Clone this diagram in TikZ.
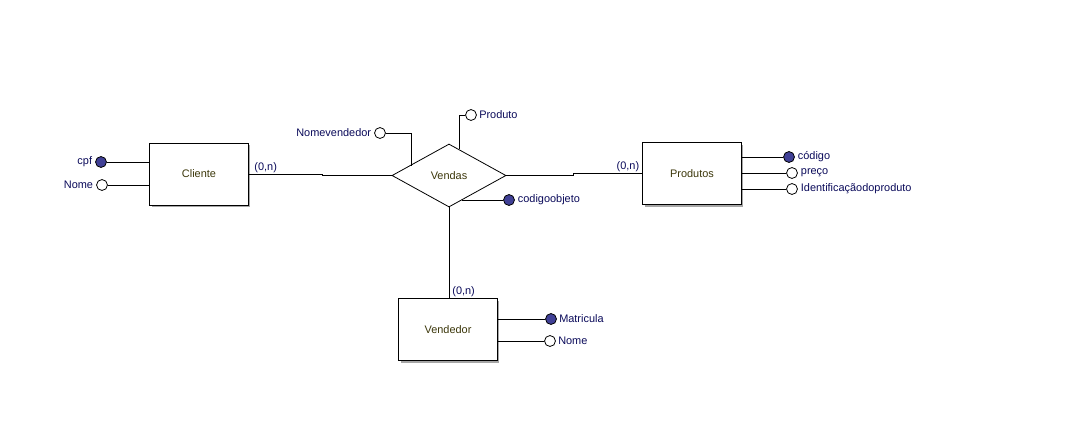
\documentclass[tikz,border=0pt]{standalone}
\usepackage{fontspec}
\setmainfont{Liberation Sans}
\usetikzlibrary{shapes,shapes.geometric,shadows}
\usetikzlibrary{positioning}
\definecolor{azulrot}{RGB}{10,10,90}
\definecolor{textoent}{RGB}{60,55,10}
\definecolor{chavecor}{RGB}{64,64,150}
\tikzstyle{entidade} = [draw, rectangle, fill=white, minimum width=74pt,
minimum height=46.5pt, inner sep=0pt, text=textoent,
drop shadow={shadow xshift=1.5pt, shadow yshift=-1.5pt, fill=gray!70, opacity=1}]
\tikzstyle{atributo} = [draw, circle, fill=white, minimum size=8.2pt, inner sep=0pt]

\begin{document}
\begin{tikzpicture}[x=0.75pt, y=-0.75pt, font=\fontsize{8.2}{10}\selectfont,
	line width=0.6pt,
	relac/.style={draw, diamond, fill=white, minimum width=85.5pt,
		minimum height=47.25pt, inner sep=0pt, text=textoent},
	chave/.style={atributo, fill=chavecor},
	rotulo/.style={text=azulrot, inner sep=0pt},
	card/.style={text=azulrot, inner sep=1pt}]
	\useasboundingbox[fill=white] (0,0) rectangle (1065,430);
	\node [entidade] (Cliente) at (199,174) {Cliente};
	\node [relac] (Vendas) at (449,175.5) {Vendas};
	\node [entidade] (Produtos) at (692,173.5) {Produtos};
	\node [entidade] (Vendedor) at (448,329.5) {Vendedor};
	%% atributos
	\node [chave] (cpf) at (101,162) {};
	\node [atributo] (nomecli) at (102,185) {};
	\node [atributo] (nomev) at (380,133) {};
	\node [atributo] (produto) at (471,115) {};
	\node [chave] (codobj) at (509,200) {};
	\node [chave] (codigo) at (789,157) {};
	\node [atributo] (preco) at (792,173) {};
	\node [atributo] (ident) at (792,189) {};
	\node [chave] (matricula) at (551,319) {};
	\node [atributo] (nomevend) at (550,341) {};
	\node [rotulo, left=2pt of cpf] (Tcpf) {cpf};
	\node [rotulo, left=2pt of nomecli] (Tnomecli) {Nome};
	\node [rotulo, left=2pt of nomev] (Tnomev) {Nomevendedor};
	\node [rotulo, right=1.5pt of produto] (Tproduto) {Produto};
	\node [rotulo, right=2pt of codobj] (Tcodobj) {codigoobjeto};
	\node [rotulo, right=2pt of codigo] (Tcodigo) {código};
	\node [rotulo, right=2pt of preco] (Tpreco) {preço};
	\node [rotulo, right=2pt of ident] (Tident) {Identificaçãodoproduto};
	\node [rotulo, right=1.5pt of matricula] (Tmatricula) {Matricula};
	\node [rotulo, right=1.5pt of nomevend] (Tnomevend) {Nome};
	\coordinate (h1) at (411,166);
	\coordinate (h2) at (459,149);
	\coordinate (h3) at (462,200);
	%% ligacoes
	\draw (cpf) -- (cpf -| Cliente.west);
	\draw (nomecli) -- (nomecli -| Cliente.west);
	\draw (nomev) -| (h1);
	\draw (produto) -| (h2);
	\draw (h3) -- (codobj);
	\draw (codigo) -- (codigo -| Produtos.east);
	\draw (preco) -- (preco -| Produtos.east);
	\draw (ident) -- (ident -| Produtos.east);
	\draw (matricula) -- (matricula -| Vendedor.east);
	\draw (nomevend) -- (nomevend -| Vendedor.east);
	\draw (Cliente.east) -- ++(74,0) |- (Vendas.west);
	\draw (Vendas.east) -- ++(67,0) |- (Produtos.west);
	\draw (Vendas.south) -- (Vendedor.north -| Vendas.south);
	%% cardinalidades
	\node [card, above right=0pt and 3pt of Cliente.east] (c1) {(0,n)};
	\node [card, above left=0pt and 1pt of Produtos.west] (c2) {(0,n)};
	\node [card, above right=0pt and 2pt of Vendedor.north] (c3) {(0,n)};
\end{tikzpicture}
\end{document}
